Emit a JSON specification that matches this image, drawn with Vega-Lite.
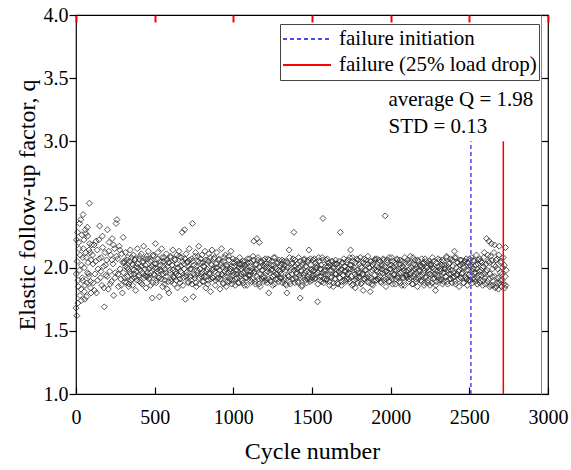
{
"$schema": "https://vega.github.io/schema/vega-lite/v6.json",
"width": 472,
"height": 379,
"autosize": {"type": "none"},
"padding": {"left": 76, "top": 15, "right": 23, "bottom": 76},
"background": "white",
"config": {
  "view": {"stroke": "black", "strokeWidth": 1.2},
  "font": "Liberation Serif",
  "axis": {"grid": false, "labelFont": "Liberation Serif", "titleFont": "Liberation Serif", "labelColor": "black", "titleColor": "black", "labelFontSize": 20, "titleFontSize": 24, "titleFontWeight": "normal"}
},
"datasets": {
"pts": [
{"c":0,"q":1.68},{"c":5,"q":1.62},{"c":10,"q":2.28},{"c":15,"q":1.85},{"c":20,"q":2.15},{"c":25,"q":1.78},{"c":30,"q":2.38},{"c":35,"q":2.02},{"c":40,"q":1.92},{"c":45,"q":2.42},{"c":50,"q":2.22},{"c":55,"q":1.75},{"c":60,"q":2.30},{"c":65,"q":2.08},{"c":70,"q":1.88},{"c":75,"q":2.25},{"c":80,"q":1.95},{"c":85,"q":2.51},{"c":90,"q":2.12},{"c":95,"q":1.80},{"c":100,"q":2.18},
{"c":2,"q":1.95},{"c":7,"q":2.05},{"c":12,"q":1.72},{"c":17,"q":2.20},{"c":22,"q":1.98},{"c":27,"q":2.10},{"c":32,"q":1.83},{"c":37,"q":2.26},{"c":42,"q":1.90},{"c":47,"q":2.15},{"c":52,"q":2.00},{"c":57,"q":1.86},{"c":62,"q":2.12},{"c":67,"q":1.77},{"c":72,"q":2.32},{"c":77,"q":2.04},{"c":82,"q":1.93},{"c":87,"q":2.19},{"c":92,"q":1.84},{"c":97,"q":2.06},{"c":3,"q":2.22},{"c":13,"q":1.90},{"c":23,"q":2.35},{"c":33,"q":1.74},{"c":43,"q":2.08},{"c":53,"q":1.81},{"c":63,"q":2.27},{"c":73,"q":1.96},{"c":83,"q":2.14},{"c":93,"q":1.89},
{"c":105,"q":2.10},{"c":110,"q":1.88},{"c":115,"q":2.18},{"c":120,"q":1.95},{"c":125,"q":2.05},{"c":130,"q":1.80},{"c":135,"q":2.14},{"c":140,"q":1.99},{"c":145,"q":2.22},{"c":150,"q":2.33},{"c":155,"q":1.92},{"c":160,"q":2.08},{"c":165,"q":1.86},{"c":170,"q":2.16},{"c":175,"q":2.01},{"c":180,"q":1.69},{"c":185,"q":2.12},{"c":190,"q":1.94},{"c":195,"q":2.06},{"c":200,"q":2.30},{"c":205,"q":1.83},{"c":210,"q":2.20},{"c":215,"q":1.97},{"c":220,"q":2.10},{"c":225,"q":1.89},{"c":230,"q":2.23},{"c":235,"q":2.03},{"c":240,"q":1.78},{"c":245,"q":2.15},{"c":250,"q":1.96},{"c":255,"q":2.35},{"c":260,"q":2.38},{"c":265,"q":2.07},{"c":270,"q":1.85},{"c":275,"q":2.17},{"c":280,"q":1.99},{"c":285,"q":1.91},{"c":290,"q":2.11},{"c":295,"q":1.80},{"c":300,"q":2.24},
{"c":108,"q":2.03},{"c":118,"q":1.82},{"c":128,"q":2.21},{"c":138,"q":1.90},{"c":148,"q":2.07},{"c":158,"q":1.97},{"c":168,"q":2.25},{"c":178,"q":1.84},{"c":188,"q":2.02},{"c":198,"q":1.93},{"c":208,"q":2.13},{"c":218,"q":1.87},{"c":228,"q":2.06},{"c":238,"q":2.18},{"c":248,"q":1.92},{"c":258,"q":2.09},{"c":268,"q":1.95},{"c":278,"q":2.14},{"c":288,"q":1.86},{"c":298,"q":2.04},
{"c":305,"q":2.05},{"c":310,"q":1.92},{"c":315,"q":2.12},{"c":320,"q":1.88},{"c":325,"q":2.00},{"c":330,"q":2.08},{"c":335,"q":1.85},{"c":340,"q":1.97},{"c":345,"q":2.14},{"c":350,"q":1.90},{"c":355,"q":2.03},{"c":360,"q":1.86},{"c":365,"q":2.10},{"c":370,"q":1.95},{"c":375,"q":2.06},{"c":380,"q":1.82},{"c":385,"q":2.01},{"c":390,"q":2.15},{"c":395,"q":1.93},{"c":400,"q":2.07},{"c":405,"q":1.89},{"c":410,"q":1.98},{"c":415,"q":2.11},{"c":420,"q":1.87},{"c":425,"q":2.04},{"c":430,"q":2.17},{"c":435,"q":1.94},{"c":440,"q":2.02},{"c":445,"q":1.84},{"c":450,"q":2.09},{"c":455,"q":1.96},{"c":460,"q":2.13},{"c":465,"q":1.91},{"c":470,"q":2.00},{"c":475,"q":1.86},{"c":480,"q":2.06},{"c":485,"q":1.76},{"c":490,"q":2.10},{"c":495,"q":1.95},{"c":500,"q":2.03},{"c":505,"q":2.19},{"c":510,"q":1.88},{"c":515,"q":1.99},{"c":520,"q":2.12},{"c":525,"q":1.92},{"c":530,"q":1.77},{"c":535,"q":2.05},{"c":540,"q":1.97},{"c":545,"q":2.15},{"c":550,"q":1.85},{"c":555,"q":2.01},{"c":560,"q":2.08},{"c":565,"q":1.90},{"c":570,"q":1.96},{"c":575,"q":2.11},{"c":580,"q":1.83},{"c":585,"q":2.04},{"c":590,"q":1.80},{"c":595,"q":1.98},{"c":600,"q":2.09},{"c":605,"q":1.89},{"c":610,"q":2.02},{"c":615,"q":2.14},{"c":620,"q":1.93},{"c":625,"q":1.87},{"c":630,"q":2.06},{"c":635,"q":1.95},{"c":640,"q":2.10},{"c":645,"q":1.84},{"c":650,"q":2.00},{"c":655,"q":2.13},{"c":660,"q":1.91},{"c":665,"q":1.97},{"c":670,"q":2.08},{"c":675,"q":2.28},{"c":680,"q":1.86},{"c":685,"q":2.03},{"c":690,"q":2.30},{"c":695,"q":1.75},{"c":700,"q":2.11},{"c":705,"q":1.94},{"c":710,"q":2.05},{"c":715,"q":1.88},{"c":720,"q":2.15},{"c":725,"q":1.99},{"c":730,"q":1.90},{"c":735,"q":2.07},{"c":740,"q":2.35},{"c":745,"q":1.77},{"c":750,"q":2.02},{"c":755,"q":1.92},{"c":760,"q":2.12},{"c":765,"q":1.85},{"c":770,"q":1.98},{"c":775,"q":2.09},{"c":780,"q":2.17},{"c":785,"q":1.87},{"c":790,"q":2.04},{"c":795,"q":1.95},{"c":800,"q":2.10},{"c":805,"q":1.89},{"c":810,"q":2.01},{"c":815,"q":1.93},{"c":820,"q":2.13},{"c":825,"q":1.84},{"c":830,"q":1.97},{"c":835,"q":2.06},{"c":840,"q":1.90},{"c":845,"q":2.11},{"c":850,"q":1.96},{"c":855,"q":1.81},{"c":860,"q":2.03},{"c":865,"q":2.14},{"c":870,"q":1.92},{"c":875,"q":1.99},{"c":880,"q":2.08},{"c":885,"q":1.86},{"c":890,"q":2.00},{"c":895,"q":2.12},{"c":900,"q":1.91},{"c":905,"q":1.95},{"c":910,"q":2.07},{"c":915,"q":1.83},{"c":920,"q":2.02},{"c":925,"q":2.15},{"c":930,"q":1.94},{"c":935,"q":1.88},{"c":940,"q":2.05},{"c":945,"q":1.97},{"c":950,"q":2.10},{"c":955,"q":1.85},{"c":960,"q":2.01},{"c":965,"q":1.93},{"c":970,"q":2.09},{"c":975,"q":1.89},{"c":980,"q":1.99},{"c":985,"q":2.13},{"c":990,"q":1.87},{"c":995,"q":2.04},{"c":1000,"q":1.96},
{"c":1005,"q":2.01},{"c":1010,"q":1.91},{"c":1015,"q":2.06},{"c":1020,"q":1.95},{"c":1025,"q":1.98},{"c":1030,"q":1.88},{"c":1035,"q":2.03},{"c":1040,"q":2.08},{"c":1045,"q":1.93},{"c":1050,"q":1.99},{"c":1055,"q":1.90},{"c":1060,"q":2.05},{"c":1065,"q":1.96},{"c":1070,"q":1.86},{"c":1075,"q":2.02},{"c":1080,"q":2.00},{"c":1085,"q":1.92},{"c":1090,"q":2.07},{"c":1095,"q":1.94},{"c":1100,"q":1.97},
{"c":1105,"q":1.94},{"c":1110,"q":2.04},{"c":1115,"q":1.89},{"c":1120,"q":1.99},{"c":1125,"q":2.09},{"c":1130,"q":2.21},{"c":1135,"q":1.97},{"c":1140,"q":1.87},{"c":1145,"q":2.03},{"c":1150,"q":2.23},{"c":1155,"q":2.06},{"c":1160,"q":1.91},{"c":1165,"q":2.20},{"c":1170,"q":1.85},{"c":1175,"q":2.05},{"c":1180,"q":1.98},{"c":1185,"q":1.93},{"c":1190,"q":2.02},{"c":1195,"q":1.89},{"c":1200,"q":2.01},
{"c":1205,"q":2.03},{"c":1210,"q":1.96},{"c":1215,"q":1.88},{"c":1220,"q":2.07},{"c":1225,"q":1.80},{"c":1230,"q":2.00},{"c":1235,"q":1.90},{"c":1240,"q":1.98},{"c":1245,"q":2.05},{"c":1250,"q":1.86},{"c":1255,"q":2.02},{"c":1260,"q":1.94},{"c":1265,"q":2.08},{"c":1270,"q":1.91},{"c":1275,"q":1.99},{"c":1280,"q":1.95},{"c":1285,"q":2.04},{"c":1290,"q":1.89},{"c":1295,"q":1.97},{"c":1300,"q":2.01},
{"c":1305,"q":1.92},{"c":1310,"q":2.06},{"c":1315,"q":1.99},{"c":1320,"q":1.90},{"c":1325,"q":2.02},{"c":1330,"q":1.87},{"c":1335,"q":2.05},{"c":1340,"q":1.80},{"c":1345,"q":2.00},{"c":1350,"q":1.93},{"c":1355,"q":2.14},{"c":1360,"q":1.89},{"c":1365,"q":1.98},{"c":1370,"q":2.03},{"c":1375,"q":1.91},{"c":1380,"q":2.07},{"c":1385,"q":2.28},{"c":1390,"q":1.88},{"c":1395,"q":2.01},{"c":1400,"q":1.96},
{"c":1405,"q":1.99},{"c":1410,"q":1.89},{"c":1415,"q":2.08},{"c":1420,"q":1.94},{"c":1425,"q":1.76},{"c":1430,"q":1.97},{"c":1435,"q":1.85},{"c":1440,"q":2.02},{"c":1445,"q":1.92},{"c":1450,"q":2.06},{"c":1455,"q":1.96},{"c":1460,"q":2.01},{"c":1465,"q":1.88},{"c":1470,"q":2.05},{"c":1475,"q":1.93},{"c":1480,"q":2.14},{"c":1485,"q":1.91},{"c":1490,"q":2.07},{"c":1495,"q":1.98},{"c":1500,"q":1.90},
{"c":1505,"q":1.97},{"c":1510,"q":1.94},{"c":1515,"q":2.07},{"c":1520,"q":1.92},{"c":1525,"q":2.00},{"c":1530,"q":2.02},{"c":1535,"q":1.73},{"c":1540,"q":1.96},{"c":1545,"q":2.05},{"c":1550,"q":1.90},{"c":1555,"q":1.99},{"c":1560,"q":1.93},{"c":1565,"q":2.08},{"c":1570,"q":2.39},{"c":1575,"q":1.88},{"c":1580,"q":1.98},{"c":1585,"q":1.95},{"c":1590,"q":2.06},{"c":1595,"q":1.91},{"c":1600,"q":2.01},
{"c":1605,"q":2.01},{"c":1610,"q":1.89},{"c":1615,"q":2.02},{"c":1620,"q":1.93},{"c":1625,"q":1.98},{"c":1630,"q":2.05},{"c":1635,"q":1.85},{"c":1640,"q":2.00},{"c":1645,"q":1.91},{"c":1650,"q":2.06},{"c":1655,"q":1.95},{"c":1660,"q":2.03},{"c":1665,"q":1.87},{"c":1670,"q":1.97},{"c":1675,"q":1.92},{"c":1680,"q":2.28},{"c":1685,"q":1.99},{"c":1690,"q":1.89},{"c":1695,"q":2.04},{"c":1700,"q":1.94},
{"c":1705,"q":2.01},{"c":1710,"q":1.97},{"c":1715,"q":1.89},{"c":1720,"q":2.04},{"c":1725,"q":1.95},{"c":1730,"q":1.99},{"c":1735,"q":1.91},{"c":1740,"q":2.08},{"c":1745,"q":2.14},{"c":1750,"q":2.02},{"c":1755,"q":1.86},{"c":1760,"q":2.05},{"c":1765,"q":1.98},{"c":1770,"q":1.90},{"c":1775,"q":1.84},{"c":1780,"q":1.93},{"c":1785,"q":2.07},{"c":1790,"q":1.88},{"c":1795,"q":1.96},{"c":1800,"q":2.03},
{"c":1805,"q":1.96},{"c":1810,"q":2.01},{"c":1815,"q":1.88},{"c":1820,"q":1.95},{"c":1825,"q":1.82},{"c":1830,"q":2.07},{"c":1835,"q":1.91},{"c":1840,"q":2.03},{"c":1845,"q":1.98},{"c":1850,"q":1.89},{"c":1855,"q":2.09},{"c":1860,"q":1.93},{"c":1865,"q":2.00},{"c":1870,"q":1.81},{"c":1875,"q":2.05},{"c":1880,"q":1.87},{"c":1885,"q":2.02},{"c":1890,"q":1.90},{"c":1895,"q":1.99},{"c":1900,"q":2.06},
{"c":1905,"q":1.90},{"c":1910,"q":1.98},{"c":1915,"q":2.07},{"c":1920,"q":1.91},{"c":1925,"q":2.00},{"c":1930,"q":1.93},{"c":1935,"q":2.05},{"c":1940,"q":1.88},{"c":1945,"q":2.01},{"c":1950,"q":1.96},{"c":1955,"q":2.06},{"c":1960,"q":1.92},{"c":1965,"q":2.41},{"c":1970,"q":1.85},{"c":1975,"q":1.97},{"c":1980,"q":2.04},{"c":1985,"q":1.94},{"c":1990,"q":2.08},{"c":1995,"q":1.89},{"c":2000,"q":1.99},
{"c":2005,"q":2.02},{"c":2010,"q":1.91},{"c":2015,"q":2.05},{"c":2020,"q":1.94},{"c":2025,"q":1.98},{"c":2030,"q":1.87},{"c":2035,"q":2.03},{"c":2040,"q":2.07},{"c":2045,"q":1.93},{"c":2050,"q":1.99},{"c":2055,"q":1.89},{"c":2060,"q":2.06},{"c":2065,"q":1.96},{"c":2070,"q":1.86},{"c":2075,"q":2.01},{"c":2080,"q":2.00},{"c":2085,"q":1.92},{"c":2090,"q":2.08},{"c":2095,"q":1.94},{"c":2100,"q":1.97},
{"c":2105,"q":1.94},{"c":2110,"q":2.04},{"c":2115,"q":1.89},{"c":2120,"q":1.99},{"c":2125,"q":2.09},{"c":2130,"q":1.92},{"c":2135,"q":1.97},{"c":2140,"q":1.87},{"c":2145,"q":2.03},{"c":2150,"q":1.95},{"c":2155,"q":2.06},{"c":2160,"q":1.91},{"c":2165,"q":2.00},{"c":2170,"q":1.85},{"c":2175,"q":2.05},{"c":2180,"q":1.98},{"c":2185,"q":1.93},{"c":2190,"q":2.02},{"c":2195,"q":1.89},{"c":2200,"q":2.01},
{"c":2205,"q":2.03},{"c":2210,"q":1.96},{"c":2215,"q":1.88},{"c":2220,"q":2.07},{"c":2225,"q":1.93},{"c":2230,"q":2.00},{"c":2235,"q":1.90},{"c":2240,"q":1.98},{"c":2245,"q":2.05},{"c":2250,"q":1.86},{"c":2255,"q":2.02},{"c":2260,"q":1.94},{"c":2265,"q":2.08},{"c":2270,"q":1.91},{"c":2275,"q":1.99},{"c":2280,"q":1.95},{"c":2285,"q":1.82},{"c":2290,"q":1.89},{"c":2295,"q":1.97},{"c":2300,"q":2.01},
{"c":2305,"q":1.92},{"c":2310,"q":2.06},{"c":2315,"q":1.99},{"c":2320,"q":1.90},{"c":2325,"q":2.02},{"c":2330,"q":1.87},{"c":2335,"q":2.05},{"c":2340,"q":1.96},{"c":2345,"q":2.00},{"c":2350,"q":1.93},{"c":2355,"q":2.09},{"c":2360,"q":1.89},{"c":2365,"q":1.98},{"c":2370,"q":2.03},{"c":2375,"q":1.91},{"c":2380,"q":2.07},{"c":2385,"q":1.95},{"c":2390,"q":1.88},{"c":2395,"q":2.01},{"c":2400,"q":1.96},
{"c":2405,"q":2.13},{"c":2410,"q":1.89},{"c":2415,"q":2.08},{"c":2420,"q":1.94},{"c":2425,"q":2.04},{"c":2430,"q":1.97},{"c":2435,"q":1.85},{"c":2440,"q":2.02},{"c":2445,"q":1.92},{"c":2450,"q":2.06},{"c":2455,"q":1.96},{"c":2460,"q":2.01},{"c":2465,"q":1.88},{"c":2470,"q":2.05},{"c":2475,"q":1.93},{"c":2480,"q":2.07},{"c":2485,"q":1.91},{"c":2490,"q":2.04},{"c":2495,"q":1.98},{"c":2500,"q":1.90},
{"c":2505,"q":2.02},{"c":2510,"q":1.93},{"c":2515,"q":2.08},{"c":2520,"q":1.88},{"c":2525,"q":1.99},{"c":2530,"q":2.05},{"c":2535,"q":1.91},{"c":2540,"q":1.96},{"c":2545,"q":2.10},{"c":2550,"q":1.87},{"c":2555,"q":2.03},{"c":2560,"q":1.94},{"c":2565,"q":2.07},{"c":2570,"q":1.90},{"c":2575,"q":1.98},{"c":2580,"q":2.04},{"c":2585,"q":1.86},{"c":2590,"q":2.01},{"c":2595,"q":2.12},{"c":2600,"q":1.92},{"c":2605,"q":1.97},{"c":2610,"q":2.23},{"c":2615,"q":1.89},{"c":2620,"q":2.05},{"c":2625,"q":2.21},{"c":2630,"q":1.85},{"c":2635,"q":2.09},{"c":2640,"q":2.19},{"c":2645,"q":1.93},{"c":2650,"q":1.86},{"c":2655,"q":2.02},{"c":2660,"q":2.18},{"c":2665,"q":1.84},{"c":2670,"q":2.06},{"c":2675,"q":1.88},{"c":2680,"q":1.99},{"c":2685,"q":1.83},{"c":2690,"q":2.17},{"c":2695,"q":1.90},{"c":2700,"q":2.04},{"c":2705,"q":1.85},{"c":2710,"q":1.95},{"c":2715,"q":2.08},{"c":2718,"q":1.87},{"c":2722,"q":2.02},{"c":2725,"q":1.84},{"c":2728,"q":1.93},{"c":2730,"q":2.16},{"c":2732,"q":1.86},{"c":2735,"q":1.98},
{"c":302,"q":1.96},{"c":307,"q":2.04},{"c":312,"q":1.89},{"c":317,"q":2.01},{"c":322,"q":2.06},{"c":327,"q":1.93},{"c":332,"q":1.99},{"c":337,"q":1.87},{"c":342,"q":2.05},{"c":347,"q":1.95},{"c":352,"q":2.08},{"c":357,"q":1.91},{"c":362,"q":2.02},{"c":367,"q":1.98},{"c":372,"q":1.92},{"c":377,"q":2.07},{"c":382,"q":1.97},{"c":387,"q":1.90},{"c":392,"q":2.03},{"c":397,"q":2.00},{"c":402,"q":1.94},{"c":407,"q":2.09},{"c":412,"q":1.88},{"c":417,"q":2.01},{"c":422,"q":1.96},{"c":427,"q":2.05},{"c":432,"q":1.92},{"c":437,"q":1.99},{"c":442,"q":2.07},{"c":447,"q":1.93},
{"c":452,"q":1.93},{"c":457,"q":2.07},{"c":462,"q":1.99},{"c":467,"q":1.92},{"c":472,"q":2.05},{"c":477,"q":1.96},{"c":482,"q":2.01},{"c":487,"q":1.88},{"c":492,"q":2.09},{"c":497,"q":1.94},{"c":502,"q":2.00},{"c":507,"q":2.03},{"c":512,"q":1.90},{"c":517,"q":1.97},{"c":522,"q":2.07},{"c":527,"q":1.92},{"c":532,"q":1.98},{"c":537,"q":2.02},{"c":542,"q":1.91},{"c":547,"q":2.08},{"c":552,"q":1.95},{"c":557,"q":2.05},{"c":562,"q":1.87},{"c":567,"q":1.99},{"c":572,"q":1.93},{"c":577,"q":2.06},{"c":582,"q":2.01},{"c":587,"q":1.89},{"c":592,"q":2.04},{"c":597,"q":1.96},
{"c":602,"q":2.08},{"c":607,"q":1.91},{"c":612,"q":2.02},{"c":617,"q":1.98},{"c":622,"q":1.92},{"c":627,"q":2.07},{"c":632,"q":1.97},{"c":637,"q":1.90},{"c":642,"q":2.03},{"c":647,"q":2.00},{"c":652,"q":1.94},{"c":657,"q":2.09},{"c":662,"q":1.88},{"c":667,"q":2.01},{"c":672,"q":1.96},{"c":677,"q":2.05},{"c":682,"q":1.92},{"c":687,"q":1.99},{"c":692,"q":2.07},{"c":697,"q":1.93},{"c":702,"q":1.96},{"c":707,"q":2.04},{"c":712,"q":1.89},{"c":717,"q":2.01},{"c":722,"q":2.06},{"c":727,"q":1.93},{"c":732,"q":1.99},{"c":737,"q":1.87},{"c":742,"q":2.05},{"c":747,"q":1.95},
{"c":752,"q":1.94},{"c":757,"q":2.09},{"c":762,"q":1.88},{"c":767,"q":2.01},{"c":772,"q":1.96},{"c":777,"q":2.05},{"c":782,"q":1.92},{"c":787,"q":1.99},{"c":792,"q":2.07},{"c":797,"q":1.93},{"c":802,"q":1.96},{"c":807,"q":2.04},{"c":812,"q":1.89},{"c":817,"q":2.01},{"c":822,"q":2.06},{"c":827,"q":1.93},{"c":832,"q":1.99},{"c":837,"q":1.87},{"c":842,"q":2.05},{"c":847,"q":1.95},{"c":852,"q":2.08},{"c":857,"q":1.91},{"c":862,"q":2.02},{"c":867,"q":1.98},{"c":872,"q":1.92},{"c":877,"q":2.07},{"c":882,"q":1.97},{"c":887,"q":1.90},{"c":892,"q":2.03},{"c":897,"q":2.00},
{"c":902,"q":1.92},{"c":907,"q":2.06},{"c":912,"q":1.98},{"c":917,"q":1.91},{"c":922,"q":2.04},{"c":927,"q":1.95},{"c":932,"q":2.00},{"c":937,"q":1.87},{"c":942,"q":2.08},{"c":947,"q":1.93},{"c":952,"q":1.99},{"c":957,"q":2.02},{"c":962,"q":1.89},{"c":967,"q":1.96},{"c":972,"q":2.06},{"c":977,"q":1.91},{"c":982,"q":1.97},{"c":987,"q":2.01},{"c":992,"q":1.90},{"c":997,"q":2.07},{"c":1002,"q":1.94},{"c":1007,"q":2.04},{"c":1012,"q":1.86},{"c":1017,"q":1.98},{"c":1022,"q":1.92},{"c":1027,"q":2.05},{"c":1032,"q":2.00},{"c":1037,"q":1.88},{"c":1042,"q":2.03},{"c":1047,"q":1.95},
{"c":1052,"q":1.95},{"c":1057,"q":2.03},{"c":1062,"q":1.88},{"c":1067,"q":2.00},{"c":1072,"q":2.05},{"c":1077,"q":1.92},{"c":1082,"q":1.98},{"c":1087,"q":1.86},{"c":1092,"q":2.04},{"c":1097,"q":1.94},{"c":1102,"q":2.07},{"c":1107,"q":1.90},{"c":1112,"q":2.01},{"c":1117,"q":1.97},{"c":1122,"q":1.91},{"c":1127,"q":2.06},{"c":1132,"q":1.96},{"c":1137,"q":1.89},{"c":1142,"q":2.02},{"c":1147,"q":1.99},{"c":1152,"q":1.93},{"c":1157,"q":2.08},{"c":1162,"q":1.87},{"c":1167,"q":2.00},{"c":1172,"q":1.95},{"c":1177,"q":2.04},{"c":1182,"q":1.91},{"c":1187,"q":1.98},{"c":1192,"q":2.06},{"c":1197,"q":1.92},
{"c":1202,"q":2.07},{"c":1207,"q":1.90},{"c":1212,"q":2.01},{"c":1217,"q":1.97},{"c":1222,"q":1.91},{"c":1227,"q":2.06},{"c":1232,"q":1.96},{"c":1237,"q":1.89},{"c":1242,"q":2.02},{"c":1247,"q":1.99},{"c":1252,"q":1.93},{"c":1257,"q":2.08},{"c":1262,"q":1.87},{"c":1267,"q":2.00},{"c":1272,"q":1.95},{"c":1277,"q":2.04},{"c":1282,"q":1.91},{"c":1287,"q":1.98},{"c":1292,"q":2.06},{"c":1297,"q":1.92},{"c":1302,"q":1.95},{"c":1307,"q":2.03},{"c":1312,"q":1.88},{"c":1317,"q":2.00},{"c":1322,"q":2.05},{"c":1327,"q":1.92},{"c":1332,"q":1.98},{"c":1337,"q":1.86},{"c":1342,"q":2.04},{"c":1347,"q":1.94},
{"c":1352,"q":1.93},{"c":1357,"q":2.08},{"c":1362,"q":1.87},{"c":1367,"q":2.00},{"c":1372,"q":1.95},{"c":1377,"q":2.04},{"c":1382,"q":1.91},{"c":1387,"q":1.98},{"c":1392,"q":2.06},{"c":1397,"q":1.92},{"c":1402,"q":1.95},{"c":1407,"q":2.03},{"c":1412,"q":1.88},{"c":1417,"q":2.00},{"c":1422,"q":2.05},{"c":1427,"q":1.92},{"c":1432,"q":1.98},{"c":1437,"q":1.86},{"c":1442,"q":2.04},{"c":1447,"q":1.94},{"c":1452,"q":2.07},{"c":1457,"q":1.90},{"c":1462,"q":2.01},{"c":1467,"q":1.97},{"c":1472,"q":1.91},{"c":1477,"q":2.06},{"c":1482,"q":1.96},{"c":1487,"q":1.89},{"c":1492,"q":2.02},{"c":1497,"q":1.99},
{"c":1502,"q":1.92},{"c":1507,"q":2.06},{"c":1512,"q":1.98},{"c":1517,"q":1.91},{"c":1522,"q":2.04},{"c":1527,"q":1.95},{"c":1532,"q":2.00},{"c":1537,"q":1.87},{"c":1542,"q":2.08},{"c":1547,"q":1.93},{"c":1552,"q":1.99},{"c":1557,"q":2.02},{"c":1562,"q":1.89},{"c":1567,"q":1.96},{"c":1572,"q":2.06},{"c":1577,"q":1.91},{"c":1582,"q":1.97},{"c":1587,"q":2.01},{"c":1592,"q":1.90},{"c":1597,"q":2.07},{"c":1602,"q":1.94},{"c":1607,"q":2.04},{"c":1612,"q":1.86},{"c":1617,"q":1.98},{"c":1622,"q":1.92},{"c":1627,"q":2.05},{"c":1632,"q":2.00},{"c":1637,"q":1.88},{"c":1642,"q":2.03},{"c":1647,"q":1.95},
{"c":1652,"q":1.95},{"c":1657,"q":2.03},{"c":1662,"q":1.88},{"c":1667,"q":2.00},{"c":1672,"q":2.05},{"c":1677,"q":1.92},{"c":1682,"q":1.98},{"c":1687,"q":1.86},{"c":1692,"q":2.04},{"c":1697,"q":1.94},{"c":1702,"q":2.07},{"c":1707,"q":1.90},{"c":1712,"q":2.01},{"c":1717,"q":1.97},{"c":1722,"q":1.91},{"c":1727,"q":2.06},{"c":1732,"q":1.96},{"c":1737,"q":1.89},{"c":1742,"q":2.02},{"c":1747,"q":1.99},{"c":1752,"q":1.93},{"c":1757,"q":2.08},{"c":1762,"q":1.87},{"c":1767,"q":2.00},{"c":1772,"q":1.95},{"c":1777,"q":2.04},{"c":1782,"q":1.91},{"c":1787,"q":1.98},{"c":1792,"q":2.06},{"c":1797,"q":1.92},
{"c":1802,"q":1.93},{"c":1807,"q":2.08},{"c":1812,"q":1.87},{"c":1817,"q":2.00},{"c":1822,"q":1.95},{"c":1827,"q":2.04},{"c":1832,"q":1.91},{"c":1837,"q":1.98},{"c":1842,"q":2.06},{"c":1847,"q":1.92},{"c":1852,"q":1.95},{"c":1857,"q":2.03},{"c":1862,"q":1.88},{"c":1867,"q":2.00},{"c":1872,"q":2.05},{"c":1877,"q":1.92},{"c":1882,"q":1.98},{"c":1887,"q":1.86},{"c":1892,"q":2.04},{"c":1897,"q":1.94},{"c":1902,"q":2.07},{"c":1907,"q":1.90},{"c":1912,"q":2.01},{"c":1917,"q":1.97},{"c":1922,"q":1.91},{"c":1927,"q":2.06},{"c":1932,"q":1.96},{"c":1937,"q":1.89},{"c":1942,"q":2.02},{"c":1947,"q":1.99},
{"c":1952,"q":2.07},{"c":1957,"q":1.90},{"c":1962,"q":2.01},{"c":1967,"q":1.97},{"c":1972,"q":1.91},{"c":1977,"q":2.06},{"c":1982,"q":1.96},{"c":1987,"q":1.89},{"c":1992,"q":2.02},{"c":1997,"q":1.99},{"c":2002,"q":1.93},{"c":2007,"q":2.08},{"c":2012,"q":1.87},{"c":2017,"q":2.00},{"c":2022,"q":1.95},{"c":2027,"q":2.04},{"c":2032,"q":1.91},{"c":2037,"q":1.98},{"c":2042,"q":2.06},{"c":2047,"q":1.92},{"c":2052,"q":1.95},{"c":2057,"q":2.03},{"c":2062,"q":1.88},{"c":2067,"q":2.00},{"c":2072,"q":2.05},{"c":2077,"q":1.92},{"c":2082,"q":1.98},{"c":2087,"q":1.86},{"c":2092,"q":2.04},{"c":2097,"q":1.94},
{"c":2102,"q":1.92},{"c":2107,"q":2.06},{"c":2112,"q":1.98},{"c":2117,"q":1.91},{"c":2122,"q":2.04},{"c":2127,"q":1.95},{"c":2132,"q":2.00},{"c":2137,"q":1.87},{"c":2142,"q":2.08},{"c":2147,"q":1.93},{"c":2152,"q":1.99},{"c":2157,"q":2.02},{"c":2162,"q":1.89},{"c":2167,"q":1.96},{"c":2172,"q":2.06},{"c":2177,"q":1.91},{"c":2182,"q":1.97},{"c":2187,"q":2.01},{"c":2192,"q":1.90},{"c":2197,"q":2.07},{"c":2202,"q":1.94},{"c":2207,"q":2.04},{"c":2212,"q":1.86},{"c":2217,"q":1.98},{"c":2222,"q":1.92},{"c":2227,"q":2.05},{"c":2232,"q":2.00},{"c":2237,"q":1.88},{"c":2242,"q":2.03},{"c":2247,"q":1.95},
{"c":2252,"q":1.95},{"c":2257,"q":2.03},{"c":2262,"q":1.88},{"c":2267,"q":2.00},{"c":2272,"q":2.05},{"c":2277,"q":1.92},{"c":2282,"q":1.98},{"c":2287,"q":1.86},{"c":2292,"q":2.04},{"c":2297,"q":1.94},{"c":2302,"q":2.07},{"c":2307,"q":1.90},{"c":2312,"q":2.01},{"c":2317,"q":1.97},{"c":2322,"q":1.91},{"c":2327,"q":2.06},{"c":2332,"q":1.96},{"c":2337,"q":1.89},{"c":2342,"q":2.02},{"c":2347,"q":1.99},{"c":2352,"q":1.93},{"c":2357,"q":2.08},{"c":2362,"q":1.87},{"c":2367,"q":2.00},{"c":2372,"q":1.95},{"c":2377,"q":2.04},{"c":2382,"q":1.91},{"c":2387,"q":1.98},{"c":2392,"q":2.06},{"c":2397,"q":1.92},
{"c":2402,"q":1.93},{"c":2407,"q":2.08},{"c":2412,"q":1.87},{"c":2417,"q":2.00},{"c":2422,"q":1.95},{"c":2427,"q":2.04},{"c":2432,"q":1.91},{"c":2437,"q":1.98},{"c":2442,"q":2.06},{"c":2447,"q":1.92},{"c":2452,"q":1.95},{"c":2457,"q":2.03},{"c":2462,"q":1.88},{"c":2467,"q":2.00},{"c":2472,"q":2.05},{"c":2477,"q":1.92},{"c":2482,"q":1.98},{"c":2487,"q":1.86},{"c":2492,"q":2.04},{"c":2497,"q":1.94},{"c":2502,"q":2.07},{"c":2507,"q":1.90},{"c":2512,"q":2.01},{"c":2517,"q":1.97},{"c":2522,"q":1.91},{"c":2527,"q":2.06},{"c":2532,"q":1.96},{"c":2537,"q":1.89},{"c":2542,"q":2.02},{"c":2547,"q":1.99},
{"c":2552,"q":1.92},{"c":2557,"q":2.06},{"c":2562,"q":1.97},{"c":2567,"q":1.88},{"c":2572,"q":2.05},{"c":2577,"q":1.94},{"c":2582,"q":2.00},{"c":2587,"q":1.90},{"c":2592,"q":2.08},{"c":2597,"q":1.95},{"c":2602,"q":1.87},{"c":2607,"q":2.03},{"c":2612,"q":1.98},{"c":2617,"q":2.10},{"c":2622,"q":1.91},{"c":2627,"q":2.04},{"c":2632,"q":1.95},{"c":2637,"q":1.86},{"c":2642,"q":2.06},{"c":2647,"q":1.99},{"c":2652,"q":1.89},{"c":2657,"q":2.12},{"c":2662,"q":1.93},{"c":2667,"q":2.01},{"c":2672,"q":1.85},{"c":2677,"q":2.07},{"c":2682,"q":1.92},{"c":2687,"q":2.10},{"c":2692,"q":1.88},{"c":2697,"q":1.96},{"c":2702,"q":2.05},{"c":2707,"q":1.90},{"c":2712,"q":2.00}
],
"lines": [
{"c": 2510, "type": "failure initiation"},
{"c": 2716, "type": "failure (25% load drop)"}
],
"notes": [
{"c": 1986, "q": 3.28, "label": "average Q = 1.98"},
{"c": 1986, "q": 3.067, "label": "STD = 0.13"}
]
},
"layer": [
{
  "data": {"name": "pts"},
  "mark": {"type": "point", "shape": "diamond", "filled": false, "stroke": "#2a2a2a", "strokeWidth": 0.8, "size": 36, "opacity": 1},
  "encoding": {
    "x": {"field": "c", "type": "quantitative", "scale": {"domain": [0, 3000], "nice": false, "zero": false},
      "axis": {"orient": "bottom", "title": "Cycle number", "values": [0,500,1000,1500,2000,2500,3000], "format": "d", "domain": false,
        "offset": -7, "ticks": true, "tickColor": "black", "tickWidth": 1.2, "tickSize": 7, "labelPadding": 13, "titlePadding": 12, "labelFlush": false}},
    "y": {"field": "q", "type": "quantitative", "scale": {"domain": [1, 4], "nice": false, "zero": false},
      "axis": {"orient": "left", "title": "Elastic follow-up factor, q", "format": ".1f", "tickCount": 6, "domain": false,
        "ticks": true, "tickColor": "black", "tickWidth": 1.2, "tickSize": 7, "labelPadding": 1, "titlePadding": 4, "labelFlush": false}}
  }
},
{
  "data": {"name": "lines"},
  "mark": {"type": "rule", "strokeWidth": 1.5},
  "encoding": {
    "x": {"field": "c", "type": "quantitative",
      "axis": {"orient": "top", "title": null, "labels": false, "domain": false, "values": [0,500,1000,1500,2000,2500,3000], "ticks": true, "tickColor": "red", "tickWidth": 2, "tickSize": -7}},
    "y": {"datum": 1, "type": "quantitative",
      "axis": {"orient": "right", "title": null, "labels": false, "domain": true, "values": [1,1.5,2,2.5,3,3.5,4], "offset": -7, "ticks": true, "tickColor": "black", "tickWidth": 1.2, "tickSize": 7}},
    "y2": {"datum": 3},
    "color": {"field": "type", "type": "nominal",
      "scale": {"domain": ["failure initiation", "failure (25% load drop)"], "range": ["#4a4af0", "#ff0000"]},
      "legend": {"orient": "top-right", "offset": 9, "title": null, "symbolType": "stroke", "symbolSize": 2300, "symbolStrokeWidth": 2,
        "labelFont": "Liberation Serif", "labelFontSize": 21, "labelColor": "black", "labelLimit": 400, "strokeColor": "#444444", "padding": 2, "rowPadding": 0, "clipHeight": 26, "labelOffset": 7, "fillColor": "white"}},
    "strokeDash": {"field": "type", "type": "nominal",
      "scale": {"domain": ["failure initiation", "failure (25% load drop)"], "range": [[4, 3], [1, 0]]},
      "legend": null}
  }
},
{
  "data": {"name": "notes"},
  "mark": {"type": "text", "align": "left", "baseline": "alphabetic", "font": "Liberation Serif", "fontSize": 21, "color": "black"},
  "encoding": {
    "x": {"field": "c", "type": "quantitative", "axis": null},
    "y": {"field": "q", "type": "quantitative", "axis": null},
    "text": {"field": "label"}
  }
}
]
}
